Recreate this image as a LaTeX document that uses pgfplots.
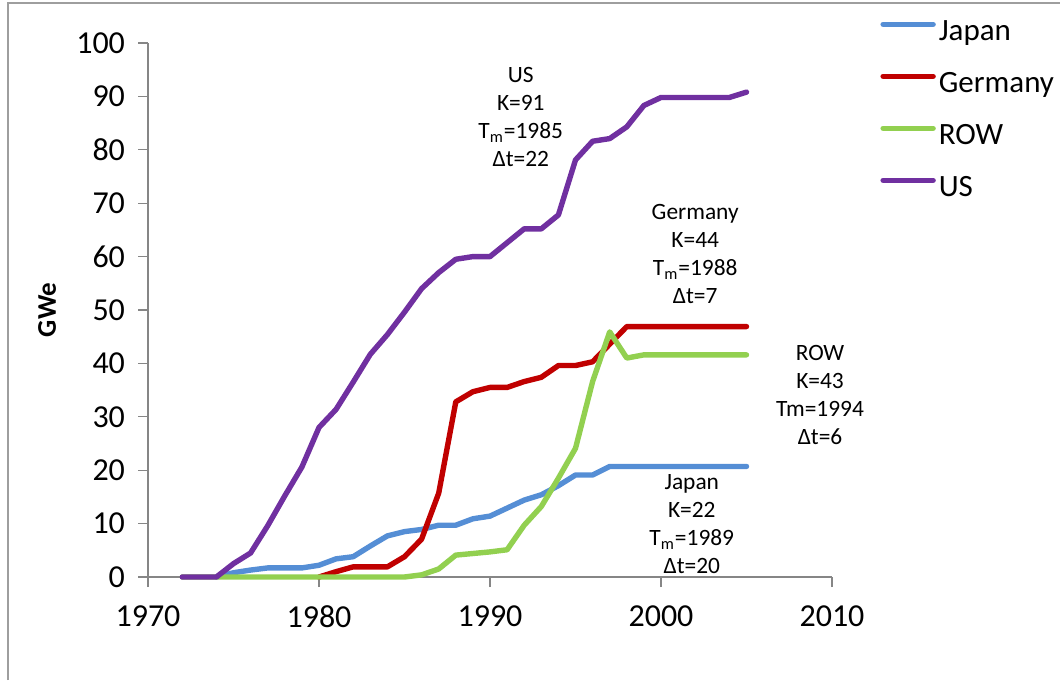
\documentclass[border=0pt]{standalone}
\usepackage{fontspec}
\setmainfont{Carlito}
\usepackage{pgfplots}
\pgfplotsset{compat=1.18}
\usepackage{pgfplotstable}

\definecolor{cJapan}{HTML}{558ED5}
\definecolor{cGermany}{HTML}{C00000}
\definecolor{cROW}{HTML}{92D050}
\definecolor{cUS}{HTML}{7030A0}
\definecolor{axgray}{HTML}{868686}

\pgfplotstableread{
year val
1974 0
1975 0.8
1976 1.3
1977 1.7
1978 1.7
1979 1.7
1980 2.2
1981 3.4
1982 3.8
1983 5.8
1984 7.7
1985 8.5
1986 8.9
1987 9.7
1988 9.7
1989 10.9
1990 11.4
1991 12.9
1992 14.4
1993 15.4
1994 17.1
1995 19.1
1996 19.1
1997 20.7
1998 20.7
1999 20.7
2000 20.7
2001 20.7
2002 20.7
2003 20.7
2004 20.7
2005 20.7
}\japan

\pgfplotstableread{
year val
1980 0
1981 1.0
1982 1.9
1983 1.9
1984 1.9
1985 3.8
1986 7.1
1987 15.7
1988 32.8
1989 34.7
1990 35.5
1991 35.5
1992 36.6
1993 37.4
1994 39.6
1995 39.6
1996 40.3
1997 43.6
1998 46.9
1999 46.9
2000 46.9
2001 46.9
2002 46.9
2003 46.9
2004 46.9
2005 46.9
}\germany

\pgfplotstableread{
year val
1972 0
1973 0
1974 0
1975 0
1976 0
1977 0
1978 0
1979 0
1980 0
1981 0
1982 0
1983 0
1984 0
1985 0
1986 0.4
1987 1.5
1988 4.1
1989 4.4
1990 4.7
1991 5.1
1992 9.7
1993 13.2
1994 18.5
1995 24.1
1996 36.6
1997 45.9
1998 41.0
1999 41.6
2000 41.6
2001 41.6
2002 41.6
2003 41.6
2004 41.6
2005 41.6
}\row

\pgfplotstableread{
year val
1972 0
1973 0
1974 0
1975 2.5
1976 4.5
1977 9.6
1978 15.2
1979 20.6
1980 28.0
1981 31.4
1982 36.5
1983 41.7
1984 45.4
1985 49.6
1986 54.0
1987 57.0
1988 59.5
1989 60.0
1990 60.0
1991 62.6
1992 65.2
1993 65.2
1994 67.8
1995 78.1
1996 81.6
1997 82.1
1998 84.3
1999 88.3
2000 89.8
2001 89.8
2002 89.8
2003 89.8
2004 89.8
2005 90.8
}\us

\begin{document}
\begin{tikzpicture}
\path[use as bounding box] (0,0) rectangle (530pt,340pt);
\draw[color=axgray!80, line width=0.8pt] (4pt,0pt) -- (4pt,338.5pt) -- (531pt,338.5pt);
\begin{axis}[
  at={(74pt,51.5pt)}, anchor=south west,
  scale only axis, width=342pt, height=267pt,
  xmin=1970, xmax=2010, ymin=0, ymax=100,
  xtick={1970,1980,...,2010}, ytick={0,10,...,100},
  axis x line*=bottom, axis y line*=left,
  axis line style={color=axgray, line width=0.6pt, -},
  tick style={color=axgray, line width=0.6pt},
  tick align=outside, major tick length=5pt,
  /pgf/number format/1000 sep={},
  /pgf/number format/assume math mode=true,
  ticklabel style={font=\fontsize{16}{19}\selectfont},
  xticklabel style={yshift=-6pt},
  yticklabel style={xshift=-3pt},
  ylabel={\textbf{GWe}},
  ylabel style={font=\fontsize{13.5}{16}\selectfont, at={(axis description cs:0,0.5)}, yshift=50.5pt, anchor=center},
  clip=false,
  every axis plot/.append style={line width=2.7pt, line join=round, line cap=round},
  legend style={draw=none, fill=none, at={(1.0702,1.047)}, anchor=north west,
    font=\fontsize{15.5}{18}\selectfont, row sep=12pt, inner sep=0pt,
    nodes={inner sep=0pt, text height=11pt, text depth=3pt}},
  legend cell align=left,
  legend image code/.code={\draw[#1, line cap=round] (0pt,4pt) -- (25pt,4pt);},
]
\addplot[color=cJapan] table[x=year,y=val] {\japan};
\addlegendentry{\hspace{1.5pt}Japan}
\addplot[color=cGermany] table[x=year,y=val] {\germany};
\addlegendentry{\hspace{1.5pt}Germany}
\addplot[color=cROW] table[x=year,y=val] {\row};
\addlegendentry{\hspace{1.5pt}ROW}
\addplot[color=cUS] table[x=year,y=val] {\us};
\addlegendentry{\hspace{1.5pt}US}

\node[align=center, font=\fontsize{11.7}{14}\selectfont] at (axis cs:1991.8,86.1) {US\\K=91\\T\textsubscript{m}=1985\\Δt=22};
\node[align=center, font=\fontsize{11.7}{14}\selectfont] at (axis cs:2002.0,60.5) {Germany\\K=44\\T\textsubscript{m}=1988\\Δt=7};
\node[align=center, font=\fontsize{11.7}{14}\selectfont] at (axis cs:2009.3,34.1) {ROW\\K=43\\Tm=1994\\Δt=6};
\node[align=center, font=\fontsize{11.7}{14}\selectfont] at (axis cs:2001.8,9.9) {Japan\\K=22\\T\textsubscript{m}=1989\\Δt=20};
\end{axis}
\end{tikzpicture}
\end{document}
